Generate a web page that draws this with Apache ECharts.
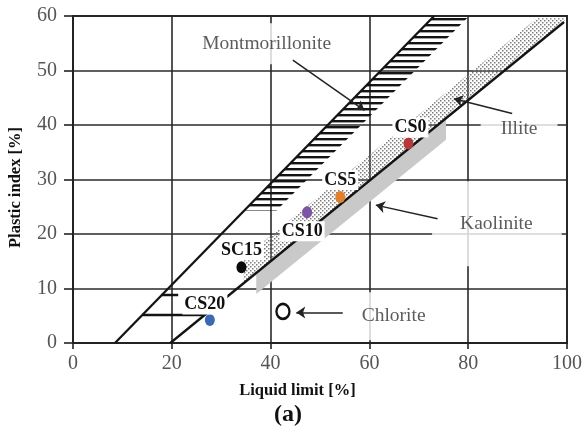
<!DOCTYPE html>
<html>
<head>
<meta charset="utf-8">
<script src="https://cdn.jsdelivr.net/npm/echarts@6/dist/echarts.min.js"></script>
<style>
  html, body { margin: 0; padding: 0; background: #fff; }
  #chart { width: 585px; height: 428px; }
</style>
</head>
<body>
<div id="chart"></div>
<script>
// Soil samples on the plasticity chart (liquid limit vs plastic index)
const sampleNames = ['CS0', 'CS5', 'CS10', 'SC15', 'CS20'];
const liquidLimit = [67.9, 54.1, 47.4, 34.1, 27.7];
const plasticIndex = [36.6, 26.8, 24.0, 13.9, 4.2];
const sampleColors = ['#b5393a', '#e3802c', '#7c55a6', '#0a0a0a', '#3a6bb2'];

// Chlorite reference point
const chloritePoint = [42.5, 5.8];

// Boundary lines, [LL, PI]
const uLine = [[8.5, 0], [73.1, 60]];
const aLine = [[19.7, 0], [99.4, 58.9]];
const clmlLow = [[14.1, 5.2], [26.4, 5.2]];
const clmlHigh = [[17.9, 8.8], [21.3, 8.8]];

// Mineral zones, polygon vertices [LL, PI]
const montmorilloniteZone = [[34.7, 24.3], [73.1, 60], [80.2, 60], [41.2, 24.3]];
const illiteZone = [[34.5, 10.9], [99.4, 58.9], [99.6, 59.6], [93.9, 59.6], [34.5, 15.6]];
const kaoliniteZone = [[37.1, 12.9], [75.5, 41.2], [75.5, 37.3], [37.1, 9.0]];

// Zone names and where their captions sit
const zoneNames = ['Montmorillonite', 'Illite', 'Kaolinite', 'Chlorite'];
const zoneCaptionAt = [[39.2, 54.9], [90.3, 39.2], [85.8, 21.9], [64.9, 4.9]];

// Pointer arrows from captions to zones
const pointerArrows = [
  [[44.5, 51.9], [59.0, 42.7]],
  [[88.9, 42.1], [77.1, 44.8]],
  [[73.8, 22.8], [61.3, 25.3]],
  [[54.6, 5.6], [45.2, 5.6]]
];

// Axis ticks
const xTicks = [0, 20, 40, 60, 80, 100];
const yTicks = [0, 10, 20, 30, 40, 50, 60];

// ---- fill patterns ----
function stripePattern() {
  const c = document.createElement('canvas');
  c.width = 8; c.height = 6;
  const g = c.getContext('2d');
  g.fillStyle = '#141414';
  g.fillRect(0, 0, 8, 2.4);
  return c;
}
function dotPattern() {
  const c = document.createElement('canvas');
  c.width = 4; c.height = 4;
  const g = c.getContext('2d');
  g.fillStyle = '#7c7c7c';
  g.fillRect(0, 0, 1.5, 1.5);
  g.fillRect(2, 2, 1.5, 1.5);
  return c;
}

function zoneSeries(name, verts, fill, z) {
  return {
    type: 'custom',
    name: name,
    z: z,
    silent: true,
    data: [verts[0]],
    renderItem: function (params, api) {
      return {
        type: 'polygon',
        shape: { points: verts.map(function (p) { return api.coord(p); }) },
        style: { fill: fill, stroke: null }
      };
    }
  };
}

const serif = 'Liberation Serif';
const lineColor = '#141414';

const captionPadding = {
  Montmorillonite: [9, 2, 10, 2],
  Illite: [3, 20, 3, 20],
  Kaolinite: [28, 29, 35, 28],
  Chlorite: [10, 8, 16, 8]
};
const labelShift = {
  CS0: [2, -16], CS5: [0, -17], CS10: [-5, 19], SC15: [0, -17], CS20: [-5, -15.5]
};

const chart = echarts.init(document.getElementById('chart'), null, { renderer: 'canvas' });

const option = {
  animation: false,
  backgroundColor: '#fff',
  grid: {
    left: 73, right: 17, top: 16, bottom: 85,
    show: true, borderColor: '#222', borderWidth: 2, backgroundColor: 'transparent'
  },
  xAxis: {
    type: 'value',
    min: xTicks[0], max: xTicks[xTicks.length - 1], interval: xTicks[1] - xTicks[0],
    axisLine: { show: true, onZero: false, lineStyle: { color: '#222', width: 2 } },
    axisTick: { show: true, length: 6, lineStyle: { color: '#222', width: 1.6 } },
    axisLabel: { fontFamily: serif, fontSize: 20, color: '#555', margin: 11 },
    splitLine: { show: true, lineStyle: { color: '#2a2a2a', width: 1.6 } }
  },
  yAxis: {
    type: 'value',
    min: yTicks[0], max: yTicks[yTicks.length - 1], interval: yTicks[1] - yTicks[0],
    axisLine: { show: true, onZero: false, lineStyle: { color: '#222', width: 2 } },
    axisTick: { show: true, length: 9, lineStyle: { color: '#222', width: 1.6 } },
    axisLabel: { fontFamily: serif, fontSize: 20, color: '#555', margin: 16 },
    splitLine: { show: true, lineStyle: { color: '#2a2a2a', width: 1.6 } }
  },
  graphic: [
    {
      type: 'text', x: 297.5, y: 391, z: 10,
      style: { text: 'Liquid limit [%]', font: 'bold 16.5px "Liberation Serif"', fill: '#111',
               textAlign: 'center', textVerticalAlign: 'middle' }
    },
    {
      type: 'text', x: 288, y: 415, z: 10,
      style: { text: '(a)', font: 'bold 24px "Liberation Serif"', fill: '#111',
               textAlign: 'center', textVerticalAlign: 'middle' }
    },
    {
      type: 'text', x: 16, y: 187.5, rotation: Math.PI / 2, z: 10,
      style: { text: 'Plastic index [%]', font: 'bold 16.5px "Liberation Serif"', fill: '#111',
               textAlign: 'center', textVerticalAlign: 'middle' }
    }
  ],
  series: [
    zoneSeries('Kaolinite zone', kaoliniteZone, '#c9c9c9', 2),
    zoneSeries('Illite zone', illiteZone, { image: dotPattern(), repeat: 'repeat' }, 2),
    zoneSeries('Montmorillonite zone', montmorilloniteZone, { image: stripePattern(), repeat: 'repeat' }, 2),
    {
      // zone captions on white boxes
      type: 'scatter', name: 'captions', z: 3, silent: true,
      symbolSize: 0,
      data: zoneNames.map(function (n, i) {
        return {
          name: n, value: zoneCaptionAt[i],
          label: { padding: captionPadding[n] }
        };
      }),
      label: {
        show: true, position: 'inside', formatter: '{b}',
        fontFamily: serif, fontSize: 19.5, lineHeight: 22, color: '#333',
        backgroundColor: '#fff'
      }
    },
    {
      type: 'lines', name: 'boundaries', coordinateSystem: 'cartesian2d', z: 4, silent: true,
      data: [uLine, aLine, clmlLow, clmlHigh].map(function (c) { return { coords: c }; }),
      lineStyle: { color: lineColor, width: 2.3, opacity: 1 }
    },
    {
      type: 'lines', name: 'pointers', coordinateSystem: 'cartesian2d', z: 4, silent: true,
      symbol: ['none', 'arrow'], symbolSize: 9,
      data: pointerArrows.map(function (c) { return { coords: c }; }),
      lineStyle: { color: '#222', width: 1.5, opacity: 1 }
    },
    {
      type: 'scatter', name: 'Chlorite', z: 5, silent: true,
      symbol: 'circle', symbolSize: [13, 15],
      data: [chloritePoint],
      itemStyle: { color: '#fff', borderColor: '#111', borderWidth: 2.5, opacity: 1 }
    },
    {
      type: 'scatter', name: 'samples', z: 6, silent: true,
      symbol: 'circle', symbolSize: [10, 12],
      data: sampleNames.map(function (n, i) {
        return {
          name: n, value: [liquidLimit[i], plasticIndex[i]],
          itemStyle: { color: sampleColors[i], opacity: 1 },
          label: { offset: labelShift[n] }
        };
      }),
      label: {
        show: true, position: 'inside', formatter: '{b}',
        fontFamily: serif, fontWeight: 'bold', fontSize: 18, lineHeight: 18,
        color: '#111', backgroundColor: '#fff', padding: [1, 2]
      }
    }
  ]
};

chart.setOption(option);
</script>
</body>
</html>
